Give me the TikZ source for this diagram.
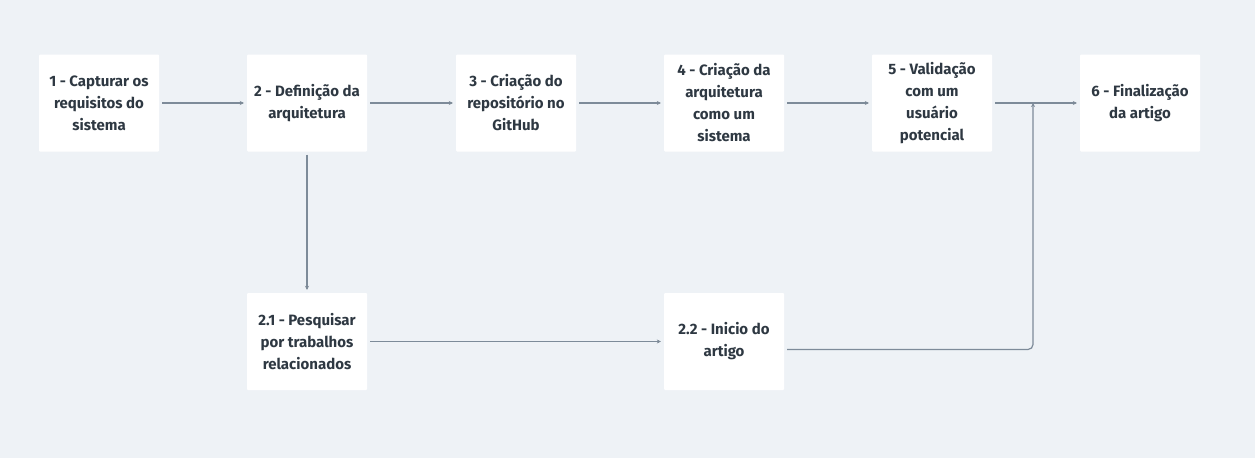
\documentclass[tikz,border=0pt]{standalone}
\usepackage{fontspec}
\setmainfont{Fira Sans}
\usetikzlibrary{arrows.meta}
\definecolor{bgcol}{HTML}{EEF2F6}
\definecolor{linecol}{HTML}{7D8B99}
\definecolor{txtcol}{HTML}{2E3842}
\tikzset{
  stepbox/.style={rectangle,fill=white,draw=none,rounded corners=1pt,minimum width=120pt,minimum height=97pt,align=center,text=txtcol,font=\bfseries\fontsize{15}{22}\selectfont},
  flow/.style={draw=linecol,line width=1.2pt,-{Stealth[length=4pt,width=4pt]},shorten <=3pt,shorten >=3pt}
}
\begin{document}
\begin{tikzpicture}[x=1pt,y=-1pt]
\useasboundingbox[fill=bgcol] (0,0) rectangle (1255,458);
\node[stepbox] (b1) at (99,103) {1 - Capturar os\\requisitos do\\sistema};
\node[stepbox] (b2) at (307,103) {2 - Definição da\\arquitetura};
\node[stepbox] (b3) at (516,103) {3 - Criação do\\repositório no\\GitHub};
\node[stepbox] (b4) at (724,103) {4 - Criação da\\arquitetura\\como um\\sistema};
\node[stepbox] (b5) at (932,103) {5 - Validação\\com um\\usuário\\potencial};
\node[stepbox] (b6) at (1140,103) {6 - Finalização\\da artigo};
\node[stepbox] (b21) at (307,341.5) {2.1 - Pesquisar\\por trabalhos\\relacionados};
\node[stepbox] (b22) at (724,341.5) {2.2 - Inicio do\\artigo};

\coordinate (j) at (1033,103);

\path [flow] (b1) edge (b2);
\path [flow] (b2) edge (b3);
\path [flow] (b3) edge (b4);
\path [flow] (b4) edge (b5);
\path [flow] (b5) edge (b6);
\path [flow] (b2) edge (b21);
\path [flow] (b21) edge (b22);
%%%%%%%%
\draw [flow,rounded corners=5pt,shorten >=0pt] ([yshift=-8pt]b22.east) -| (j);
\end{tikzpicture}
\end{document}
